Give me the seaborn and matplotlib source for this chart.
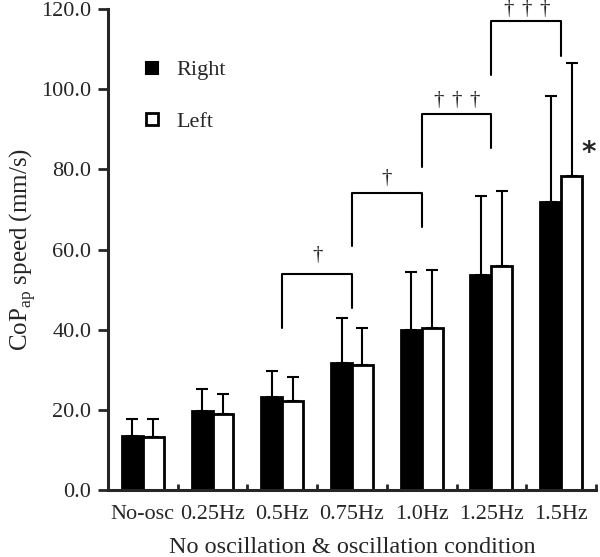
import pandas as pd
import matplotlib.pyplot as plt
import seaborn as sns
from matplotlib.lines import Line2D
from matplotlib.ticker import FormatStrFormatter

conditions = ['No-osc', '0.25Hz', '0.5Hz', '0.75Hz', '1.0Hz', '1.25Hz', '1.5Hz']
right_mean = [13.5, 19.8, 23.1, 31.7, 39.8, 53.7, 71.8]
right_sd = [4.2, 5.4, 6.5, 11.2, 14.7, 19.6, 26.5]
left_mean = [13.3, 18.9, 22.1, 31.1, 40.4, 55.8, 78.3]
left_sd = [4.4, 5.1, 6.0, 9.2, 14.4, 18.8, 28.2]

# significance brackets between neighbouring conditions
bracket_from = [2, 3, 4, 5]
bracket_to = [3, 4, 5, 6]
bracket_top = [53.8, 74.2, 93.9, 116.9]
bracket_left_end = [40.4, 60.8, 80.6, 103.5]
bracket_right_end = [45.3, 65.5, 85.4, 108.3]
bracket_marks = [1, 1, 3, 3]
mark_gap = [4.6, 3.4, 3.3, 3.0]

sns.set_style('ticks')
plt.rcParams['font.family'] = ['Liberation Serif', 'DejaVu Serif']
plt.rcParams['mathtext.fontset'] = 'custom'
plt.rcParams['mathtext.rm'] = 'Liberation Serif'

df = pd.DataFrame({
    'condition': conditions * 2,
    'side': ['Right'] * 7 + ['Left'] * 7,
    'speed': right_mean + left_mean,
})

fig = plt.figure(figsize=(6, 5.57), dpi=100)
ax = fig.add_axes([0.18, 0.1203, 0.8133, 0.8635])

sns.barplot(data=df, x='condition', y='speed', hue='side', order=conditions,
            hue_order=['Right', 'Left'], palette={'Right': 'black', 'Left': 'white'},
            edgecolor='black', linewidth=2, width=0.6, errorbar=None, ax=ax, legend=False)

for cont, sd in zip(ax.containers, [right_sd, left_sd]):
    xs = [p.get_x() + p.get_width() / 2 for p in cont]
    ys = [p.get_height() for p in cont]
    ax.errorbar(xs, ys, yerr=[[0] * len(sd), sd], fmt='none', ecolor='black',
                elinewidth=1.5, capsize=4, capthick=1.5, zorder=3)

for a, b, top, l_end, r_end, n, g in zip(bracket_from, bracket_to, bracket_top,
                                          bracket_left_end, bracket_right_end,
                                          bracket_marks, mark_gap):
    ax.plot([a, a, b, b], [l_end, top, top, r_end], color='black', lw=1.5, clip_on=False)
    mid = (a + b) / 2
    offs = [0] if n == 1 else [-0.26, 0, 0.26]
    for o in offs:
        ax.text(mid + o, top + g, '\u2020', ha='center', va='center', fontsize=15, clip_on=False)

ax.text(6.4, 84, '*', ha='center', va='center', fontsize=20, fontweight='bold',
        family='DejaVu Sans')

ax.set_xlim(-0.5, 6.5)
ax.set_ylim(0, 120)
ax.set_yticks(range(0, 121, 20))
ax.yaxis.set_major_formatter(FormatStrFormatter('%.1f'))
ax.set_xticks(range(len(conditions)))
ax.set_xticks([i + 0.5 for i in range(7)], minor=True)
ax.tick_params(axis='y', direction='out', length=7, width=2, labelsize=16, pad=5)
ax.tick_params(axis='x', which='major', length=0, labelsize=16, pad=11)
ax.tick_params(axis='x', which='minor', direction='in', length=4.5, width=2)

sns.despine(ax=ax)
for s in ['left', 'bottom']:
    ax.spines[s].set_linewidth(2.2)

ax.set_xlabel('No oscillation & oscillation condition', fontsize=17.5, labelpad=9)
ax.set_ylabel(r'CoP$_{\mathrm{ap}}$ speed (mm/s)', fontsize=18, labelpad=2)

handles = [
    Line2D([], [], marker='s', ls='none', markersize=9, markerfacecolor='black',
           markeredgecolor='black', markeredgewidth=1.5),
    Line2D([], [], marker='s', ls='none', markersize=9, markerfacecolor='white',
           markeredgecolor='black', markeredgewidth=2),
]
ax.legend(handles, ['Right', 'Left'], loc='upper left', bbox_to_anchor=(0.027, 0.936),
          frameon=False, fontsize=16, labelspacing=1.4, handlelength=1.0,
          handletextpad=0.6)

fig.savefig('out.png', dpi=100)
